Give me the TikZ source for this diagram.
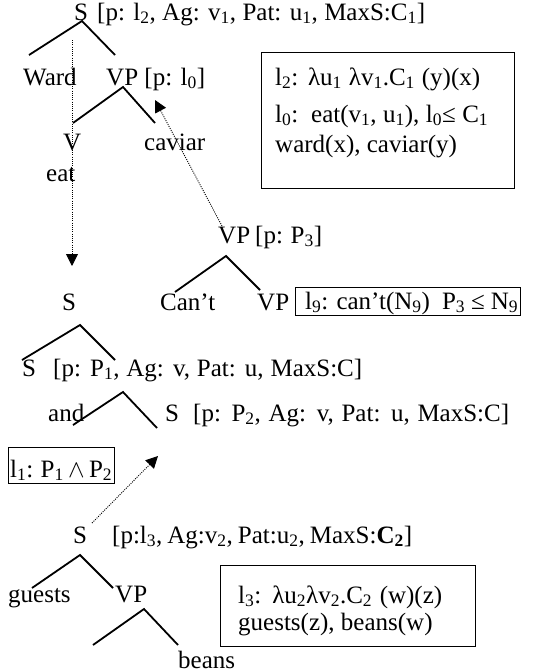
\documentclass[tikz,border=0pt]{standalone}
\usepackage{fontspec}
\setmainfont{Liberation Serif}
\usetikzlibrary{arrows.meta}
\newcommand{\sbs}[1]{\textsubscript{#1}}
\newcommand{\fitw}[2]{\makebox[#1pt][s]{#2}}
\begin{document}
\begin{tikzpicture}[x=1pt,y=-1pt,
  txt/.style={anchor=base west,inner sep=0pt,font=\fontsize{25}{29}\selectfont},
  branch/.style={line width=1.8pt},
  frame/.style={draw,line width=1.2pt,anchor=north west,inner sep=0pt},
  link/.style={line width=0.9pt,dash pattern=on 1pt off 1.2pt,-{Triangle[length=12pt,width=12pt]}}]
\useasboundingbox (0,0) rectangle (556,672);

% ---------- top tree ----------
\node[txt] (s0) at (74,20) {S};
\node[txt] (s0f) at (97,20) {\fitw{328}{[p: l\sbs{2}, Ag: v\sbs{1}, Pat: u\sbs{1}, MaxS:C\sbs{1}]}};
\coordinate (s0a) at (82,21);
\coordinate (s0l) at (29,55);
\coordinate (s0r) at (115,55);
\draw[branch] (s0l) -- (s0a) -- (s0r);

\node[txt] (ward) at (23,85) {Ward};
\node[txt] (vp0) at (106,85) {\fitw{99}{VP [p: l\sbs{0}]}};
\coordinate (vp0a) at (123,87);
\coordinate (vp0l) at (73,123);
\coordinate (vp0r) at (155,123);
\draw[branch] (vp0l) -- (vp0a) -- (vp0r);

\node[txt] (v) at (63,150) {V};
\node[txt] (caviar) at (144,150) {caviar};
\node[txt] (eat) at (46,181) {eat};

\node[frame,minimum width=253pt,minimum height=136pt] (box1) at (261,52) {};
\node[txt] (b1l1) at (275,85) {\fitw{205}{l\sbs{2}: λu\sbs{1} λv\sbs{1}.C\sbs{1} (y)(x)}};
\node[txt] (b1l2) at (275,122) {\fitw{213}{l\sbs{0}:\ \ eat(v\sbs{1}, u\sbs{1}), l\sbs{0}≤ C\sbs{1}}};
\node[txt] (b1l3) at (275,152) {ward(x), caviar(y)};

% ---------- dotted arrows ----------
\coordinate (d1s) at (72,40);
\coordinate (d1e) at (72,266);
\draw[link] (d1s) -- (d1e);

\coordinate (d2s) at (222,226);
\coordinate (d2e) at (155,100);
\draw[link] (d2s) -- (d2e);

% ---------- VP can't ----------
\node[txt] (vp3) at (218,243) {\fitw{104}{VP [p: P\sbs{3}]}};
\coordinate (vp3a) at (226,256);
\coordinate (vp3l) at (175,292);
\coordinate (vp3r) at (260,290);
\draw[branch] (vp3l) -- (vp3a) -- (vp3r);

\node[txt] (s1) at (62,310) {S};
\node[txt] (cant) at (160,310) {Can’t};
\node[txt] (vp4) at (257,310) {VP};
\node[frame,minimum width=225pt,minimum height=28pt] (box9) at (295,287) {};
\node[txt] (b9) at (305,309) {\fitw{213}{l\sbs{9}: can’t(N\sbs{9})\ \ P\sbs{3} ≤ N\sbs{9}}};

% ---------- conjunction ----------
\coordinate (s1a) at (80,325);
\coordinate (s1l) at (22,360);
\coordinate (s1r) at (115,360);
\draw[branch] (s1l) -- (s1a) -- (s1r);

\node[txt] (s2) at (22,376) {S};
\node[txt] (s2f) at (53,376) {\fitw{309}{[p: P\sbs{1}, Ag: v, Pat: u, MaxS:C]}};
\coordinate (s2a) at (123,392);
\coordinate (s2l) at (73,425);
\coordinate (s2r) at (157,428);
\draw[branch] (s2l) -- (s2a) -- (s2r);

\node[txt] (and) at (48,421) {and};
\node[txt] (s3) at (165,421) {S};
\node[txt] (s3f) at (193,421) {\fitw{316}{[p: P\sbs{2}, Ag: v, Pat: u, MaxS:C]}};
\node[frame,minimum width=106pt,minimum height=36pt] (box0) at (8,447) {};
\node[txt] (b0) at (10,477) {\fitw{102}{l\sbs{1}: P\sbs{1} $\wedge$ P\sbs{2}}};

\coordinate (d3s) at (92,523);
\coordinate (d3e) at (158,456);
\draw[link] (d3s) -- (d3e);

% ---------- bottom tree ----------
\node[txt] (s4) at (73,543) {S};
\node[txt] (s4f) at (112,543) {\fitw{300}{[p:l\sbs{3}, Ag:v\sbs{2}, Pat:u\sbs{2}, MaxS:\textbf{C\sbs{2}}]}};
\coordinate (s4a) at (80,555);
\coordinate (s4l) at (32,588);
\coordinate (s4r) at (113,588);
\draw[branch] (s4l) -- (s4a) -- (s4r);

\node[txt] (guests) at (8,602) {guests};
\node[txt] (vp5) at (115,602) {VP};
\coordinate (vp5a) at (144,609);
\coordinate (vp5l) at (93,645);
\coordinate (vp5r) at (178,645);
\draw[branch] (vp5l) -- (vp5a) -- (vp5r);
\node[txt] (beans) at (178,668) {beans};

\node[frame,minimum width=255pt,minimum height=81pt] (box3) at (220,565) {};
\node[txt] (b3l1) at (238,603) {\fitw{204}{l\sbs{3}: λu\sbs{2}λv\sbs{2}.C\sbs{2} (w)(z)}};
\node[txt] (b3l2) at (238,630) {guests(z), beans(w)};
\end{tikzpicture}
\end{document}
